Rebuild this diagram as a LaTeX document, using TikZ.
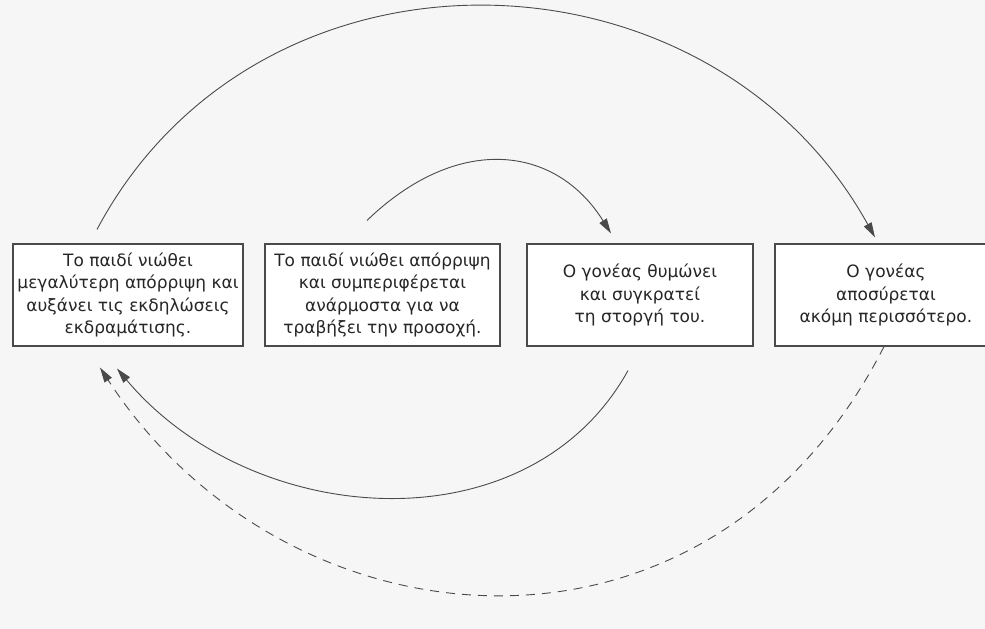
\documentclass[tikz,border=0pt]{standalone}
\usepackage{fontspec}
\setmainfont{DejaVu Sans}
\usetikzlibrary{arrows.meta}
\definecolor{ink}{HTML}{4A4A4A}
\definecolor{paper}{HTML}{F6F6F6}
\begin{document}
\begin{tikzpicture}[x=1pt,y=1pt,
	box/.style={rectangle,draw=ink,line width=1.1pt,fill=white,align=center,
		minimum width=230pt,minimum height=102pt,inner sep=1pt,text=black!85,
		font=\fontsize{17}{22.5}\selectfont},
	link/.style={draw=ink,line width=0.9pt,-{Triangle[length=15pt,width=8.5pt]}},
	back/.style={link,dash pattern=on 9pt off 7pt}]
			\useasboundingbox (0,0) rectangle (985,629);
			\clip (0,0) rectangle (985,629);
			\fill[paper] (0,0) rectangle (985,629);
			\begin{scope}[every node/.style={box}]
			\node (A) at (128,334) {Το παιδί νιώθει\\μεγαλύτερη απόρριψη και\\αυξάνει τις εκδηλώσεις\\εκδραμάτισης.};
			\node (B) at (382.5,334) [minimum width=235pt]{Το παιδί νιώθει απόρριψη\\και συμπεριφέρεται\\ανάρμοστα για να\\τραβήξει την προσοχή.};
			\node (C) at (640,334) [minimum width=226pt]{Ο γονέας θυμώνει\\και συγκρατεί\\τη στοργή του.};
			\node (D) at (886,334) [minimum width=222pt]{Ο γονέας\\αποσύρεται\\ακόμη περισσότερο.};
			\end{scope}
			
			\draw[link] ([xshift=-31pt,yshift=14pt]A.north) .. controls +(62:344pt) and +(119:344pt) .. ([xshift=-11pt,yshift=6pt]D.north);
			\draw[link] ([xshift=-15.5pt,yshift=23pt]B.north) .. controls +(44:125pt) and +(122:105pt) .. ([xshift=-29pt,yshift=10pt]C.north);
			\draw[link] ([xshift=-12pt,yshift=-24pt]C.south) .. controls +(241:205pt) and +(310:210pt) .. ([xshift=-11pt,yshift=-22pt]A.south);
			\draw[back] ([xshift=-2pt]D.south) .. controls +(243:390pt) and +(303:340pt) .. ([xshift=-28pt,yshift=-21pt]A.south);
			\end{tikzpicture}
\end{document}
